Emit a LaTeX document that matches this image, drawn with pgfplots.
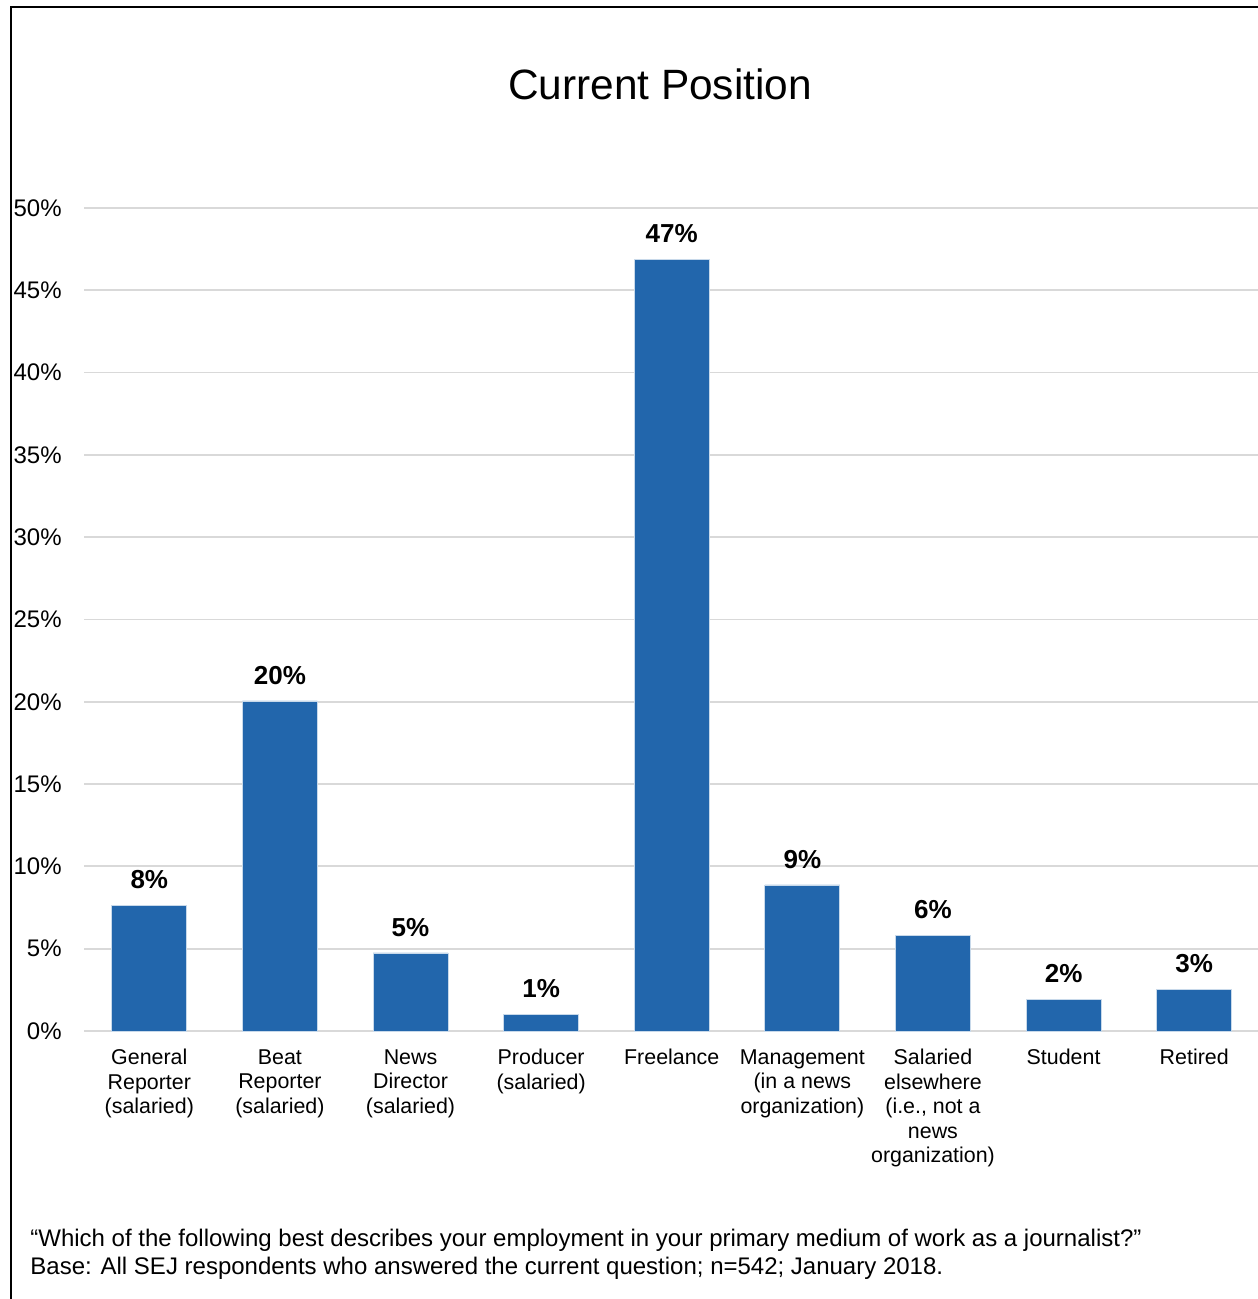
\documentclass[border=0pt]{standalone}
\usepackage{pgfplots}
\pgfplotsset{compat=1.18}
\usepackage{fontspec}
\setmainfont{Liberation Sans}
\definecolor{barblue}{RGB}{34,102,172}
\definecolor{gridgray}{RGB}{217,217,217}
\begin{document}
\begin{tikzpicture}[x=0.5pt,y=0.5pt]
\useasboundingbox (0,0) rectangle (1257,1299);
\draw[line width=1.1pt,black] (11,0) -- (11,1292) -- (1260,1292);
\node[anchor=base,font=\fontsize{21.2}{25}\selectfont] at (660,1199) {Current Position};
\begin{axis}[
  at={(42pt,134pt)}, anchor=south west,
  width=587.75pt, height=411.5pt, scale only axis,
  xmin=-0.5, xmax=8.5, ymin=0, ymax=50,
  axis line style={draw=none},
  major tick style={draw=none},
  ymajorgrids, major grid style={gridgray, line width=0.9pt},
  ytick={0,5,...,50},
  yticklabel={\pgfmathprintnumber{\tick}\%},
  /pgf/number format/assume math mode=true,
  yticklabel style={font=\fontsize{12}{14}\selectfont, inner sep=0pt, anchor=east, xshift=-11pt},
  xtick={0,...,8},
  xticklabels={{General\\Reporter\\(salaried)},{Beat\\Reporter\\(salaried)},{News\\Director\\(salaried)},{Producer\\(salaried)},{Freelance},{Management\\(in a news\\organization)},{Salaried\\elsewhere\\(i.e., not a\\news\\organization)},{Student},{Retired}},
  xticklabel style={font=\fontsize{10.7}{12.25}\selectfont, align=center, inner sep=0pt, anchor=north, yshift=-9pt},
  clip=false,
]
\addplot[ybar, bar width=37.5pt, fill=barblue, draw=white!75!barblue, line width=0.4pt,
  point meta=explicit symbolic,
  nodes near coords, every node near coord/.append style={font=\fontsize{13}{15}\selectfont\bfseries, inner sep=0pt, anchor=south, yshift=8pt}]
coordinates {
(0,7.65) [8\%]
(1,20.05) [20\%]
(2,4.74) [5\%]
(3,1.03) [1\%]
(4,46.9) [47\%]
(5,8.87) [9\%]
(6,5.83) [6\%]
(7,1.94) [2\%]
(8,2.55) [3\%]
};
\end{axis}
\node[anchor=base west,inner sep=0pt,font=\fontsize{12}{14}\selectfont] at (30,52) {“Which of the following best describes your employment in your primary medium of work as a journalist?”};
\node[anchor=base west,inner sep=0pt,font=\fontsize{12}{14}\selectfont] at (30,25) {Base: All SEJ respondents who answered the current question; n=542; January 2018.};
\end{tikzpicture}
\end{document}
